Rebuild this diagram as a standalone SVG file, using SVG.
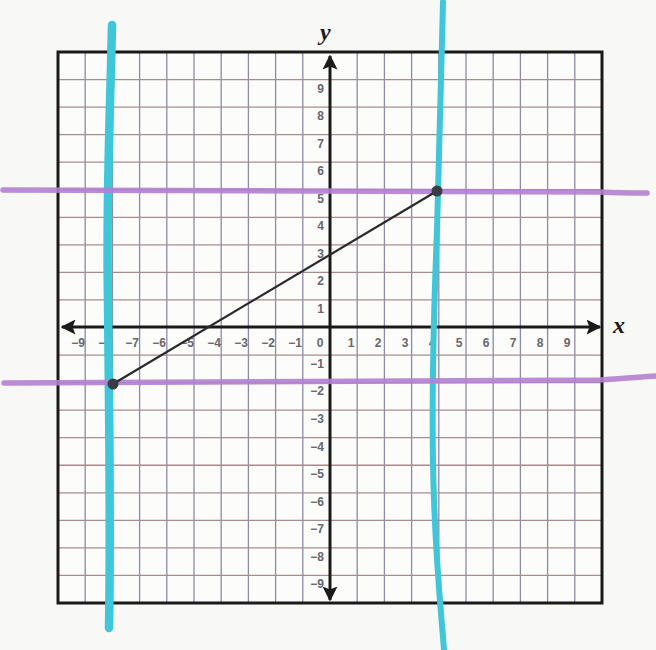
<svg xmlns="http://www.w3.org/2000/svg" width="656" height="650" viewBox="0 0 656 650">
<style>
.gv{stroke:#9088a6;stroke-width:1.3}
.gh{stroke:#a88c90;stroke-width:1.3}
.lbl{font-family:"Liberation Sans",Arial,sans-serif;font-size:12px;font-weight:bold;fill:#68666f}
.xl{text-anchor:middle}
.yl{text-anchor:end}
.ax{stroke:#1a1a1a;stroke-width:3;fill:none}
.var{font-family:"Liberation Serif","Times New Roman",serif;font-style:italic;font-weight:bold;font-size:24px;fill:#1a1a1a}
.cyan{stroke:#3fc6d8;fill:none;stroke-linecap:round}
.purple{stroke:#b27fd2;stroke-width:5.5;fill:none;stroke-linecap:round;opacity:0.9}
</style>
<defs>
<marker id="ah" viewBox="0 0 10 10" refX="9" refY="5" markerWidth="5" markerHeight="5" orient="auto-start-reverse" markerUnits="strokeWidth">
<path d="M0,0 L10,5 L0,10 L2,5 z" fill="#1a1a1a"/>
</marker>
</defs>
<rect x="0" y="0" width="656" height="650" fill="#f8f8f6"/>
<g id="grid">
<rect x="58" y="52" width="544" height="551" fill="#fcfcfb"/>
<g class="gv">
<line x1="85.2" y1="52" x2="85.2" y2="603"/>
<line x1="112.4" y1="52" x2="112.4" y2="603"/>
<line x1="139.6" y1="52" x2="139.6" y2="603"/>
<line x1="166.8" y1="52" x2="166.8" y2="603"/>
<line x1="194" y1="52" x2="194" y2="603"/>
<line x1="221.2" y1="52" x2="221.2" y2="603"/>
<line x1="248.4" y1="52" x2="248.4" y2="603"/>
<line x1="275.6" y1="52" x2="275.6" y2="603"/>
<line x1="302.8" y1="52" x2="302.8" y2="603"/>
<line x1="357.2" y1="52" x2="357.2" y2="603"/>
<line x1="384.4" y1="52" x2="384.4" y2="603"/>
<line x1="411.6" y1="52" x2="411.6" y2="603"/>
<line x1="438.8" y1="52" x2="438.8" y2="603"/>
<line x1="466" y1="52" x2="466" y2="603"/>
<line x1="493.2" y1="52" x2="493.2" y2="603"/>
<line x1="520.4" y1="52" x2="520.4" y2="603"/>
<line x1="547.6" y1="52" x2="547.6" y2="603"/>
<line x1="574.8" y1="52" x2="574.8" y2="603"/>
</g>
<g class="gh">
<line x1="58" y1="79.55" x2="602" y2="79.55"/>
<line x1="58" y1="107.1" x2="602" y2="107.1"/>
<line x1="58" y1="134.65" x2="602" y2="134.65"/>
<line x1="58" y1="162.2" x2="602" y2="162.2"/>
<line x1="58" y1="189.75" x2="602" y2="189.75"/>
<line x1="58" y1="217.3" x2="602" y2="217.3"/>
<line x1="58" y1="244.85" x2="602" y2="244.85"/>
<line x1="58" y1="272.4" x2="602" y2="272.4"/>
<line x1="58" y1="299.95" x2="602" y2="299.95"/>
<line x1="58" y1="355.05" x2="602" y2="355.05"/>
<line x1="58" y1="382.6" x2="602" y2="382.6"/>
<line x1="58" y1="410.15" x2="602" y2="410.15"/>
<line x1="58" y1="437.7" x2="602" y2="437.7"/>
<line x1="58" y1="465.25" x2="602" y2="465.25"/>
<line x1="58" y1="492.8" x2="602" y2="492.8"/>
<line x1="58" y1="520.35" x2="602" y2="520.35"/>
<line x1="58" y1="547.9" x2="602" y2="547.9"/>
<line x1="58" y1="575.45" x2="602" y2="575.45"/>
</g>
<rect x="58" y="52" width="544" height="551" fill="none" stroke="#1a1a1a" stroke-width="3"/>
</g>
<g id="x-labels" class="lbl xl">
<text x="78" y="347">−9</text>
<text x="105" y="347">−8</text>
<text x="132" y="347">−7</text>
<text x="159" y="347">−6</text>
<text x="187" y="347">−5</text>
<text x="214" y="347">−4</text>
<text x="241" y="347">−3</text>
<text x="268" y="347">−2</text>
<text x="295" y="347">−1</text>
<text x="320" y="347">0</text>
<text x="351" y="347">1</text>
<text x="378" y="347">2</text>
<text x="405" y="347">3</text>
<text x="432" y="347">4</text>
<text x="459" y="347">5</text>
<text x="486" y="347">6</text>
<text x="513" y="347">7</text>
<text x="540" y="347">8</text>
<text x="567" y="347">9</text>
</g>
<g id="y-labels" class="lbl yl">
<text x="324" y="93">9</text>
<text x="324" y="120">8</text>
<text x="324" y="148">7</text>
<text x="324" y="175">6</text>
<text x="324" y="203">5</text>
<text x="324" y="230">4</text>
<text x="324" y="258">3</text>
<text x="324" y="285">2</text>
<text x="324" y="313">1</text>
<text x="324" y="368">−1</text>
<text x="324" y="395">−2</text>
<text x="324" y="423">−3</text>
<text x="324" y="451">−4</text>
<text x="324" y="478">−5</text>
<text x="324" y="506">−6</text>
<text x="324" y="533">−7</text>
<text x="324" y="561">−8</text>
<text x="324" y="588">−9</text>
</g>
<g id="axes">
<line class="ax" x1="330" y1="56" x2="330" y2="600" marker-start="url(#ah)" marker-end="url(#ah)"/>
<line class="ax" x1="62" y1="327" x2="600" y2="327" marker-start="url(#ah)" marker-end="url(#ah)"/>
<text class="var" x="613" y="333">x</text>
<text class="var" x="320" y="40">y</text>
</g>
<g id="highlights">
<path class="cyan" stroke-width="8.5" d="M112,25 C110,120 106,200 108,300 C109,420 111,520 109,628"/>
<path class="cyan" stroke-width="6" d="M443,2 C441,80 439,160 437,230 C433,330 431,420 434,500 C437,580 442,620 444,650"/>
<path class="purple" d="M3,190 C200,189 400,190 600,192 C620,193 635,193 647,193"/>
<path class="purple" d="M4,383 C200,382 400,381 600,380 C620,379 640,377 656,376"/>
</g>
<g id="segment">
<line x1="113" y1="384" x2="437" y2="191" stroke="#2a2a2e" stroke-width="2.2"/>
<circle cx="113" cy="384" r="5.5" fill="#3a3d44"/>
<circle cx="437" cy="191" r="5.5" fill="#3a3d44"/>
</g>
</svg>
